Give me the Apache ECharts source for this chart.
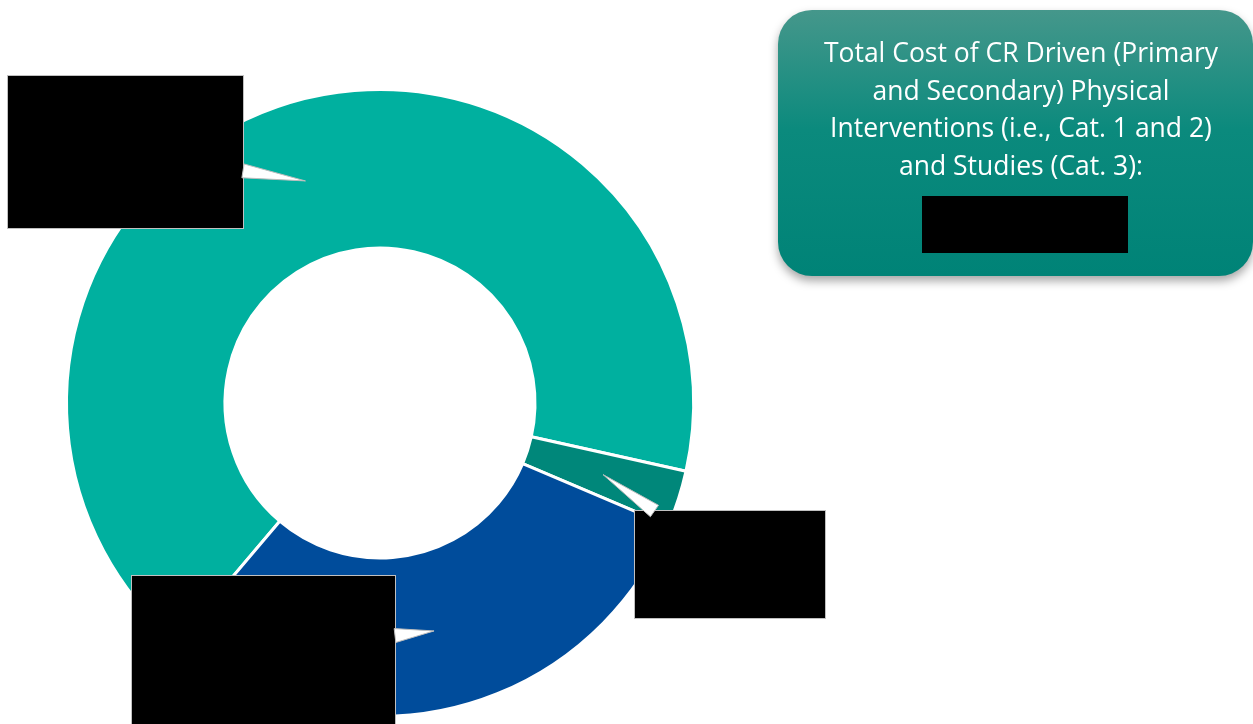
<!DOCTYPE html>
<html>
<head>
<meta charset="utf-8">
<script src="https://cdn.jsdelivr.net/npm/echarts@6/dist/echarts.min.js"></script>
<style>
  html, body { margin: 0; padding: 0; background: #ffffff; }
  #chart { width: 1253px; height: 724px; }
</style>
</head>
<body>
<div id="chart"></div>
<script>
// Cost split of CR driven interventions and studies (share of total, %)
const categories = ['Cat. 1', 'Cat. 3', 'Cat. 2'];
const shares = [67.3, 2.9, 29.8];
const sliceColors = ['#00b09f', '#00877a', '#004c9b'];

const calloutLines = [
  'Total Cost of CR Driven (Primary',
  'and Secondary) Physical',
  'Interventions (i.e., Cat. 1 and 2)',
  'and Studies (Cat. 3):'
];

// Ring geometry (pixels)
const CX = 380, CY = 403, R_IN = 155, R_OUT = 313.5;
const START_ANGLE = 229.7;

// Label boxes: left, top, width, height for each slice
const labelBoxes = [
  [8, 76, 235, 152],
  [635, 511, 190, 107],
  [132, 576, 263, 150]
];

const chart = echarts.init(document.getElementById('chart'), null, { renderer: 'canvas' });

// Callout pointer: thin wedge from the middle of the ring at the slice's mid-angle to its label box
function pointers() {
  const total = shares.reduce((a, b) => a + b, 0);
  let cum = 0;
  const rm = (R_IN + R_OUT) / 2;
  return shares.map((v, i) => {
    const mid = (-START_ANGLE + (cum + v / 2) / total * 360) * Math.PI / 180;
    cum += v;
    const tx = CX + rm * Math.cos(mid), ty = CY + rm * Math.sin(mid);
    const [bx, by, bw, bh] = labelBoxes[i];
    const mx = bx + bw / 2, my = by + bh / 2;
    // entry point of the tip -> box-centre segment into the box
    const dx = mx - tx, dy = my - ty;
    const tX = dx === 0 ? -Infinity : ((dx > 0 ? bx : bx + bw) - tx) / dx;
    const tY = dy === 0 ? -Infinity : ((dy > 0 ? by : by + bh) - ty) / dy;
    const t = Math.max(tX, tY);
    const ex = tx + dx * t, ey = ty + dy * t;
    const len = Math.hypot(dx, dy);
    const nx = -dy / len, ny = dx / len, w = 7;
    return {
      type: 'polygon',
      z: 50,
      shape: { points: [[tx, ty], [ex + nx * w, ey + ny * w], [ex - nx * w, ey - ny * w]] },
      style: { fill: '#ffffff', stroke: '#bdbdbd', lineWidth: 1 }
    };
  });
}

const option = {
  backgroundColor: '#ffffff',
  animation: false,
  series: [{
    type: 'pie',
    center: [CX, CY],
    radius: [R_IN, R_OUT],
    startAngle: START_ANGLE,
    clockwise: true,
    avoidLabelOverlap: false,
    itemStyle: { borderColor: '#ffffff', borderWidth: 3 },
    label: {
      show: true,
      position: 'inside',
      formatter: '{b}',
      color: '#000000',
      backgroundColor: '#000000',
      borderColor: '#c0c0c0',
      borderWidth: 1,
      padding: 0,
      fontSize: 14,
      overflow: 'truncate'
    },
    labelLine: { show: false },
    labelLayout: function (params) {
      const b = labelBoxes[params.dataIndex];
      return { x: b[0], y: b[1], align: 'left', verticalAlign: 'top', width: b[2], height: b[3] };
    },
    data: categories.map((c, i) => ({
      name: c,
      value: shares[i],
      itemStyle: { color: sliceColors[i] },
      label: { width: labelBoxes[i][2], height: labelBoxes[i][3] }
    }))
  }],
  graphic: [
    ...pointers(),
    {
      type: 'rect',
      z: 20,
      shape: { x: 778, y: 10, width: 475, height: 266, r: 34 },
      style: {
        fill: {
          type: 'linear', x: 0, y: 0, x2: 0, y2: 1,
          colorStops: [
            { offset: 0, color: '#45978b' },
            { offset: 0.45, color: '#0b8a7d' },
            { offset: 1, color: '#008377' }
          ]
        },
        shadowBlur: 10,
        shadowOffsetY: 5,
        shadowColor: 'rgba(0,0,0,0.35)'
      }
    },
    {
      type: 'text',
      z: 21,
      style: {
        x: 1021,
        y: 36,
        text: calloutLines.join('\n'),
        font: '500 26.5px "Open Sans"',
        lineHeight: 37.5,
        fill: '#ffffff',
        textAlign: 'center',
        textVerticalAlign: 'top'
      }
    },
    {
      type: 'rect',
      z: 21,
      shape: { x: 922, y: 196, width: 206, height: 57 },
      style: { fill: '#000000' }
    }
  ]
};

chart.setOption(option);
</script>
</body>
</html>
